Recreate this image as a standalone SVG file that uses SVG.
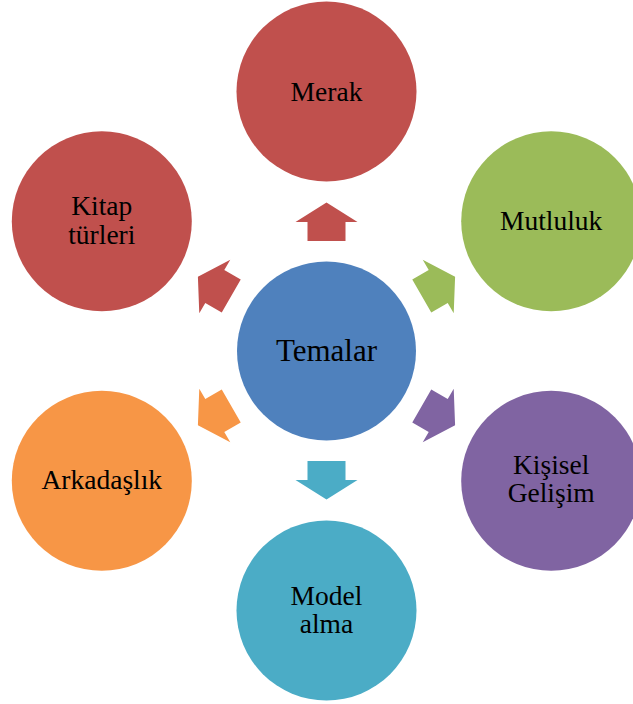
<svg xmlns="http://www.w3.org/2000/svg" width="633" height="704" viewBox="0 0 633 704">
<defs>
<style>
text{font-family:"Liberation Serif","Times New Roman",serif;font-size:27.5px;fill:#000;text-anchor:middle}
.red{fill:#C0504D}.green{fill:#9BBB59}.purple{fill:#8064A2}.teal{fill:#4BACC6}.orange{fill:#F79646}.blue{fill:#4F81BD}
</style>
<polygon id="arr" points="-19,-110 -19,-129 -31,-129 0,-148.5 31,-129 19,-129 19,-110"/>
</defs>
<rect width="633" height="704" fill="#fff"/>
<g id="connectors">
<use href="#arr" class="red" transform="translate(326.5,351) rotate(0)"/>
<use href="#arr" class="green" transform="translate(326.5,351) rotate(60)"/>
<use href="#arr" class="purple" transform="translate(326.5,351) rotate(120)"/>
<use href="#arr" class="teal" transform="translate(326.5,351) rotate(180)"/>
<use href="#arr" class="orange" transform="translate(326.5,351) rotate(240)"/>
<use href="#arr" class="red" transform="translate(326.5,351) rotate(300)"/>
</g>
<g id="temalar">
<circle class="blue" cx="326.5" cy="351" r="89.5"/>
<text x="326.5" y="360.5" style="font-size:31px">Temalar</text>
</g>
<g id="merak">
<circle class="red" cx="326.5" cy="91.5" r="90"/>
<text x="326.5" y="100.5">Merak</text>
</g>
<g id="mutluluk">
<circle class="green" cx="551.2" cy="221.3" r="90"/>
<text x="551.2" y="229.5">Mutluluk</text>
</g>
<g id="kisisel">
<circle class="purple" cx="551.2" cy="480.8" r="90"/>
<text x="551.2" y="474">Kişisel</text>
<text x="551.2" y="502">Gelişim</text>
</g>
<g id="model">
<circle class="teal" cx="326.5" cy="610.5" r="90"/>
<text x="326.5" y="605">Model</text>
<text x="326.5" y="633">alma</text>
</g>
<g id="arkadaslik">
<circle class="orange" cx="101.8" cy="480.8" r="90"/>
<text x="101.8" y="489">Arkadaşlık</text>
</g>
<g id="kitap">
<circle class="red" cx="101.8" cy="221.3" r="90"/>
<text x="101.8" y="215">Kitap</text>
<text x="101.8" y="244">türleri</text>
</g>
</svg>
